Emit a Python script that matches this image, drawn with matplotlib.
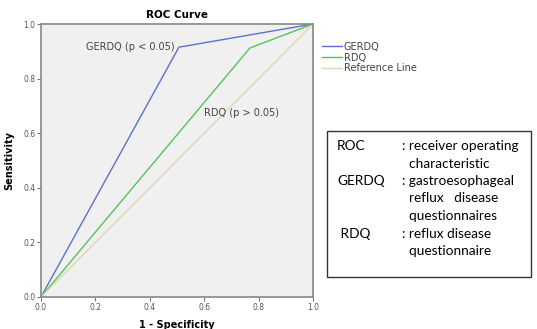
import matplotlib.pyplot as plt
from matplotlib.patches import Rectangle

# ROC points
gerdq_fpr = [0.0, 0.507, 1.0]
gerdq_tpr = [0.0, 0.915, 1.0]
rdq_fpr = [0.0, 0.768, 1.0]
rdq_tpr = [0.0, 0.912, 1.0]
ref_fpr = [0.0, 1.0]
ref_tpr = [0.0, 1.0]

ticks = [0.0, 0.2, 0.4, 0.6, 0.8, 1.0]
tick_labels = ["0.0", "0.2", "0.4", "0.6", "0.8", "1.0"]

box_terms = ["ROC", "GERDQ", " RDQ"]
box_defs = [["receiver operating", "characteristic"],
            ["gastroesophageal", "reflux   disease", "questionnaires"],
            ["reflux disease", "questionnaire"]]

W, H = 537, 329
fig = plt.figure(figsize=(W / 100, H / 100), dpi=100)
ax = fig.add_axes([41 / W, 1 - 297 / H, 272 / W, 273 / H])
ax.set_facecolor("#f0f0f0")

ax.plot(gerdq_fpr, gerdq_tpr, color="#5b72c8", lw=1.0, label="GERDQ")
ax.plot(rdq_fpr, rdq_tpr, color="#55c35a", lw=1.0, label="RDQ")
ax.plot(ref_fpr, ref_tpr, color="#ddd8ae", lw=1.0, label="Reference Line")

ax.set_xlim(0, 1)
ax.set_ylim(0, 1)
ax.set_xticks(ticks)
ax.set_xticklabels(tick_labels)
ax.set_yticks(ticks)
ax.set_yticklabels(tick_labels)
ax.tick_params(labelsize=5.5, labelcolor="#555555", length=3, width=0.8,
               color="#777777", pad=1)
for s in ax.spines.values():
    s.set_color("#888888")
    s.set_linewidth(1.2)

ax.set_title("ROC Curve", fontsize=7.5, fontweight="bold", pad=4)
ax.set_xlabel("1 - Specificity", fontsize=7, fontweight="bold", labelpad=9)
ax.set_ylabel("Sensitivity", fontsize=7, fontweight="bold", labelpad=6)
ax.xaxis.set_label_coords(0.5, -0.085)
ax.yaxis.set_label_coords(-0.1, 0.5)

ax.text(0.49, 0.915, "GERDQ (p < 0.05)", fontsize=7, color="#444444",
        ha="right", va="center")
ax.text(0.6, 0.675, "RDQ (p > 0.05)", fontsize=7, color="#444444",
        ha="left", va="center")

leg = ax.legend(loc="upper left", bbox_to_anchor=(1.02, 0.95), frameon=False,
                fontsize=7, handlelength=2.0, handletextpad=0.2,
                labelspacing=0.1, borderaxespad=0)
for t in leg.get_texts():
    t.set_color("#444444")

# explanation box on the right
fig.add_artist(Rectangle((327 / W, 1 - 277 / H), 204 / W, 146 / H,
                         transform=fig.transFigure, fill=False,
                         edgecolor="#333333", lw=1.0))
y = 146
for term, lines in zip(box_terms, box_defs):
    fig.text(337 / W, 1 - y / H, term, fontsize=9.8, family="Lato",
             va="center", ha="left")
    for i, line in enumerate(lines):
        prefix = ": " if i == 0 else "  "
        fig.text(402 / W, 1 - y / H, prefix + line, fontsize=9.8,
                 family="Lato", va="center", ha="left")
        y += 17.5

fig.savefig("out.png", dpi=100)
